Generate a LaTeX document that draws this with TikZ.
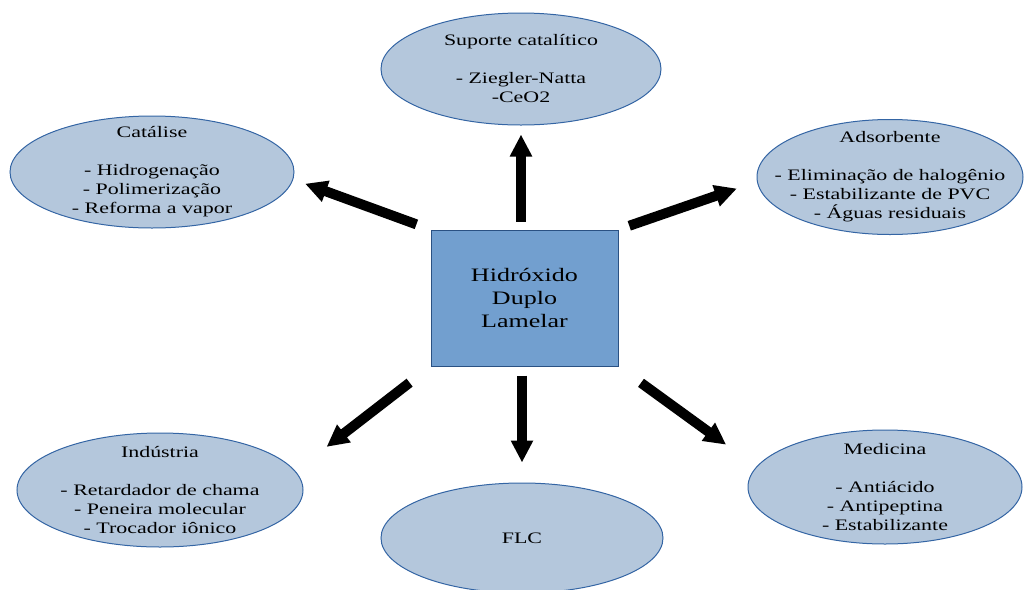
\documentclass[tikz,border=0pt]{standalone}
\usepackage{fontspec}
\setmainfont{Liberation Serif}[FakeStretch=1.37]
\usepackage{tikz}
\usetikzlibrary{shapes, arrows.meta, positioning}
\definecolor{areafill}{HTML}{B4C7DC}
\definecolor{corefill}{HTML}{729FCF}
\definecolor{edgeblue}{HTML}{3465A4}
\tikzstyle{area} = [ellipse, draw=edgeblue, line width=0.5pt, fill=areafill, inner xsep=-30pt, inner ysep=-30pt, align=center, font=\fontsize{8}{9.5}\selectfont]
\tikzstyle{core} = [rectangle, draw=edgeblue!80!black, line width=0.5pt, fill=corefill, minimum width=93.5pt, minimum height=68pt, align=center, font=\fontsize{9.5}{11.5}\selectfont]
\tikzstyle{arrow} = [line width=5pt, -{Triangle[length=11pt, width=10.5pt]}]

\begin{document}
\begin{tikzpicture}[x=0.5pt, y=-0.5pt]
\useasboundingbox (0,0) rectangle (1025,590);
\begin{scope}
\clip (0,0) rectangle (1025,590);
\node (hdl) [core] at (524.5,298) {Hidróxido\\Duplo\\Lamelar};
\node (sup) [area, minimum width=140pt, minimum height=56pt] at (521,69) {Suporte catalítico\\[9.5pt]- Ziegler-Natta\\-CeO2};
\node (cat) [area, minimum width=142pt, minimum height=56pt] at (152,172) {Catálise\\[9.5pt]- Hidrogenação\\- Polimerização\\- Reforma a vapor};
\node (ads) [area, minimum width=133pt, minimum height=57.5pt] at (890,177) {Adsorbente\\[9.5pt]- Eliminação de halogênio\\- Estabilizante de PVC\\- Águas residuais};
\node (ind) [area, minimum width=143pt, minimum height=57pt] at (160,490) {Indústria\\[9.5pt]- Retardador de chama\\- Peneira molecular\\- Trocador iônico};
\node (flc) [area, minimum width=141pt, minimum height=55pt] at (522,538) {FLC};
\node (med) [area, minimum width=137pt, minimum height=57pt] at (885,487) {Medicina\\[9.5pt]- Antiácido\\- Antipeptina\\- Estabilizante};
\end{scope}

\draw [arrow, shorten <=4pt, shorten >=4.5pt] (hdl.north -| sup.south) -- (sup.south);
\draw [arrow, shorten <=7.5pt, shorten >=6.3pt] (hdl.north west) -- (cat.-3);
\draw [arrow, shorten <=5.7pt, shorten >=10.6pt] (hdl.north east) -- (ads.182);
\draw [arrow, shorten <=13.2pt, shorten >=19.7pt] (hdl.south west) -- (ind.8.6);
\draw [arrow, shorten <=4.5pt, shorten >=10pt] (hdl.south -| flc.north) -- (flc.north);
\draw [arrow, shorten <=13.9pt, shorten >=18.7pt] (hdl.south east) -- (med.171);
\end{tikzpicture}
\end{document}
